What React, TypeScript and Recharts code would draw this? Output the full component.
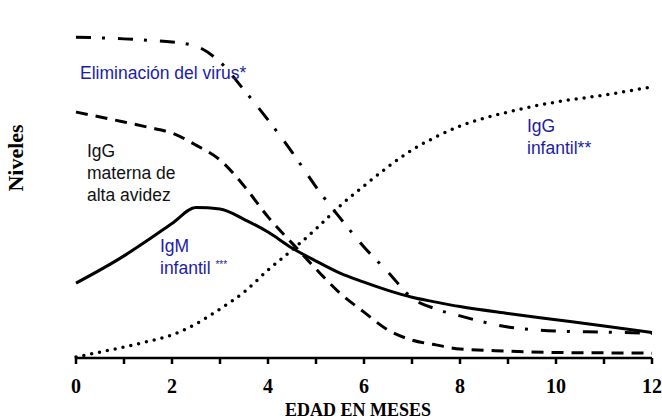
import { LineChart, Line, XAxis, YAxis } from 'recharts';

// months sampled along the curves
const months = [0, 1, 1.5, 2, 2.5, 3, 3.5, 4, 4.5, 5, 5.5, 6, 6.5, 7, 7.5, 8, 9, 10, 11, 12];
const virusElim = [93, 92.5, 92.1, 91.6, 90.4, 85.8, 77.7, 69, 59.7, 49.6, 40.6, 32.2, 24.9, 17.4, 14.2, 12.2, 9.0, 7.8, 7.5, 7.2];
const iggMaterna = [71.3, 68.4, 66.9, 65.2, 61.7, 57.4, 49.9, 40.9, 33.3, 25.8, 18.8, 13.3, 8.1, 5.2, 3.8, 2.6, 2.0, 1.6, 1.5, 1.4];
const igmInfantil = [21.7, 29.6, 34.2, 39.0, 43.6, 43.2, 40.2, 36.5, 31.9, 28.1, 24.6, 22, 19.6, 17.6, 16.2, 14.9, 12.9, 11.1, 9.3, 7.4];
const iggInfantil = [0.3, 3.2, 4.8, 6.7, 9.9, 14.2, 19.1, 25.5, 31.3, 37.4, 44.1, 49.9, 55.4, 60.3, 64.1, 67.2, 71.3, 74.2, 76.2, 78.6];
const xTicks = [0, 1, 2, 3, 4, 5, 6, 7, 8, 9, 10, 11, 12];

const data = months.map((m, i) => ({
  mes: m,
  virus: virusElim[i],
  materna: iggMaterna[i],
  igm: igmInfantil[i],
  igg: iggInfantil[i],
}));

const BLUE = '#1c1ca6';
const sans = '"Liberation Sans", Arial, sans-serif';
const serif = '"Liberation Serif", "Times New Roman", serif';

export default function App() {
  return (
    <div style={{ position: 'absolute', left: 0, top: 0, width: 662, height: 419, background: '#fff' }}>
      <LineChart width={662} height={419} data={data} margin={{ top: 13, right: 10, left: 76, bottom: 0 }}>
        <XAxis
          dataKey="mes"
          type="number"
          domain={[0, 12]}
          ticks={xTicks}
          tickFormatter={(v: number) => (v % 2 === 0 ? String(v) : '')}
          height={61}
          tickSize={6}
          tickMargin={15}
          stroke="#000"
          strokeWidth={2.5}
          tick={{ fill: '#000', fontFamily: serif, fontWeight: 'bold', fontSize: 20 }}
        />
        <YAxis width={0} domain={[0, 100]} tick={false} tickLine={false} stroke="#000" strokeWidth={2.5} />
        <Line type="monotone" dataKey="virus" stroke="#000" strokeWidth={3} strokeDasharray="15 11 3 13" dot={false} isAnimationActive={false} />
        <Line type="monotone" dataKey="materna" stroke="#000" strokeWidth={3} strokeDasharray="12 8" dot={false} isAnimationActive={false} />
        <Line type="monotone" dataKey="igm" stroke="#000" strokeWidth={3} dot={false} isAnimationActive={false} />
        <Line type="monotone" dataKey="igg" stroke="#000" strokeWidth={3.5} strokeDasharray="0 8" strokeLinecap="round" dot={false} isAnimationActive={false} />
      </LineChart>
      <svg width={662} height={419} style={{ position: 'absolute', left: 0, top: 0, pointerEvents: 'none' }}>
        <text x={80} y={79} fill={BLUE} fontFamily={sans} fontSize={17.5}>Eliminación del virus*</text>
        <text fill="#111" fontFamily={sans} fontSize={17.5}>
          <tspan x={87} y={157}>IgG</tspan>
          <tspan x={87} y={179}>materna de</tspan>
          <tspan x={87} y={201}>alta avidez</tspan>
        </text>
        <text fill={BLUE} fontFamily={sans} fontSize={17.5}>
          <tspan x={160} y={252}>IgM</tspan>
          <tspan x={160} y={274}>infantil <tspan fontSize={10} dy={-6}>***</tspan></tspan>
        </text>
        <text fill={BLUE} fontFamily={sans} fontSize={17.5}>
          <tspan x={527} y={132}>IgG</tspan>
          <tspan x={527} y={154}>infantil**</tspan>
        </text>
        <text x={23} y={158} transform="rotate(-90 23 158)" textAnchor="middle" fontFamily={serif} fontWeight="bold" fontSize={22}>Niveles</text>
        <text x={358} y={416} textAnchor="middle" fontFamily={serif} fontWeight="bold" fontSize={18}>EDAD EN MESES</text>
      </svg>
    </div>
  );
}
